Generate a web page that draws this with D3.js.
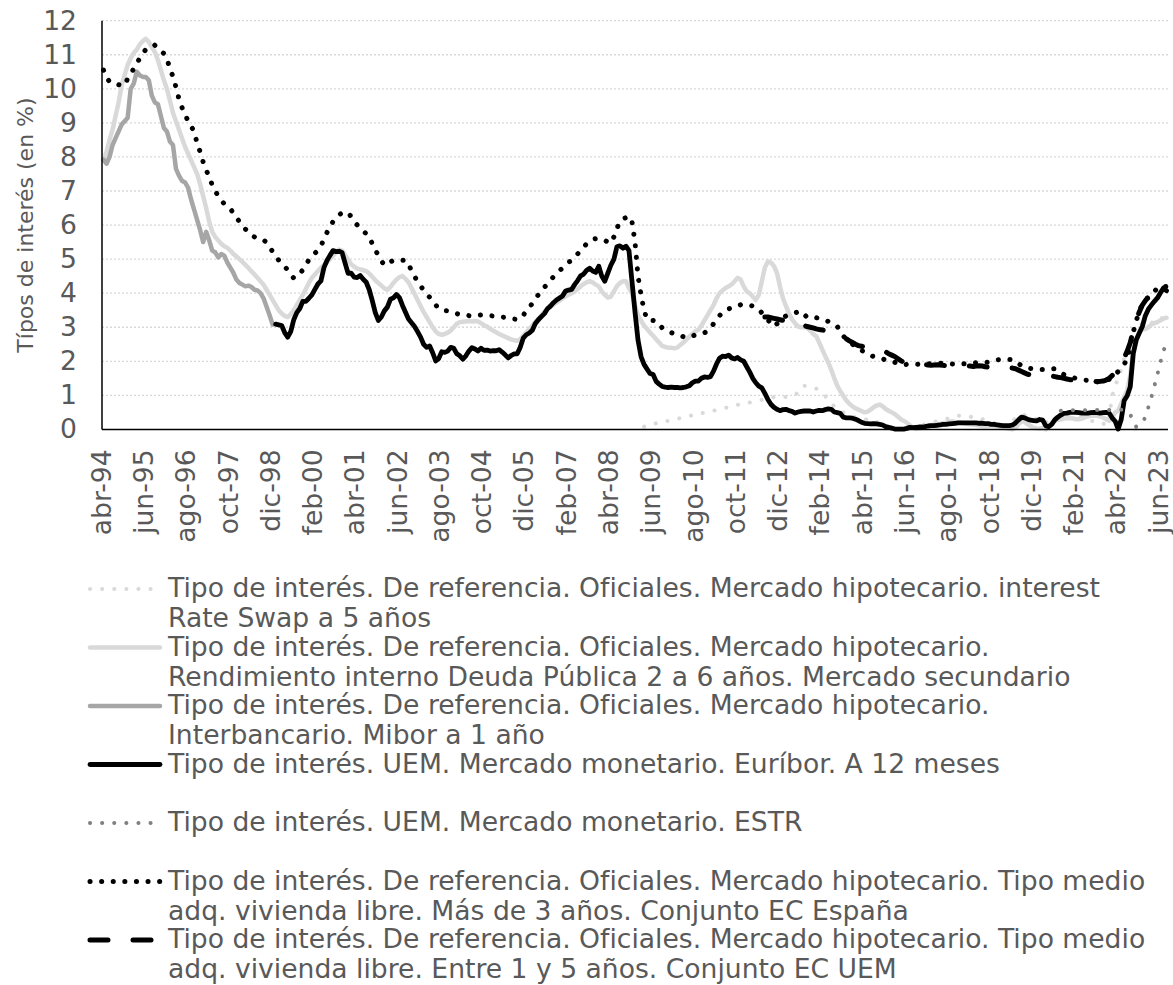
<!DOCTYPE html>
<html lang="es">
<head>
<meta charset="UTF-8">
<title>Tipos de interés</title>
<script src="https://cdn.jsdelivr.net/npm/d3@7"></script>
<style>
  body { margin: 0; background: #fff; }
  svg { display: block; font-family: Verdana, "DejaVu Sans", sans-serif; }
</style>
</head>
<body>
<svg id="chart" width="1173" height="985"></svg>
<script>
// etiquetas del eje X (una cada 14 meses)
const tickLabels = ["abr-94","jun-95","ago-96","oct-97","dic-98","feb-00","abr-01","jun-02","ago-03",
  "oct-04","dic-05","feb-07","abr-08","jun-09","ago-10","oct-11","dic-12","feb-14","abr-15","jun-16",
  "ago-17","oct-18","dic-19","feb-21","abr-22","jun-23"];

// meses abr-94 .. ago-23
const mesAbr = ["ene","feb","mar","abr","may","jun","jul","ago","sep","oct","nov","dic"];
const months = d3.range(353).map(k => {
  const t = 3 + k;
  return mesAbr[t % 12] + "-" + String((94 + Math.floor(t / 12)) % 100).padStart(2, "0");
});

// IRS a 5 años (desde mar-09)
const irsStart = 179;
const irs = [
  0.08,0.11,0.12,0.15,0.18,0.19,0.21,0.24,0.25,0.27,0.30,0.31,
  0.33,0.36,0.37,0.39,0.42,0.43,0.45,0.48,0.49,0.51,0.54,0.55,
  0.57,0.60,0.61,0.63,0.66,0.67,0.69,0.72,0.73,0.75,0.78,0.79,
  0.81,0.84,0.85,0.87,0.90,0.91,0.93,0.95,0.96,0.97,0.95,0.95,
  0.97,0.98,1.00,1.10,1.25,1.28,1.27,1.26,1.24,1.20,1.12,1.05,
  0.98,0.85,0.75,0.68,0.60,0.55,0.50,0.46,0.42,0.38,0.35,0.33,
  0.30,0.28,0.30,0.32,0.28,0.22,0.18,0.14,0.10,0.08,0.05,0.04,
  0.03,0.02,0.01,0.02,0.04,0.06,0.08,0.10,0.12,0.15,0.18,0.20,
  0.22,0.24,0.25,0.28,0.30,0.33,0.35,0.38,0.40,0.41,0.41,0.40,
  0.38,0.34,0.32,0.30,0.30,0.28,0.25,0.22,0.18,0.12,0.08,0.05,
  0.12,0.18,0.25,0.32,0.40,0.45,0.42,0.38,0.35,0.32,0.30,0.32,
  0.28,0.20,0.25,0.30,0.32,0.35,0.38,0.40,0.42,0.45,0.42,0.40,
  0.38,0.35,0.30,0.28,0.25,0.25,0.25,0.22,0.18,0.10,0.35,0.97,
  1.32,1.45,1.75,2.10,2.05,2.40,2.95,3.10,3.05,3.10,3.15,3.20,
  3.15,3.10,3.15,3.25,3.28,3.25
];

// Deuda Pública 2 a 6 años (desde abr-94)
const deudaStart = 0;
const deuda = [
  7.90,8.15,8.50,8.80,9.20,9.60,10.10,10.40,10.70,10.90,11.05,11.15,
  11.30,11.40,11.47,11.38,11.22,11.08,10.85,10.55,10.25,10.00,9.65,9.30,
  9.05,8.80,8.55,8.30,8.10,7.90,7.70,7.50,7.20,6.85,6.50,6.10,
  5.80,5.65,5.55,5.45,5.38,5.33,5.25,5.15,5.08,5.00,4.92,4.83,
  4.74,4.64,4.55,4.45,4.35,4.25,4.10,3.95,3.80,3.65,3.50,3.40,
  3.33,3.30,3.38,3.50,3.65,3.80,3.95,4.12,4.30,4.45,4.55,4.65,
  4.75,4.83,4.90,5.00,5.10,5.20,5.28,5.25,5.12,4.98,4.85,4.78,
  4.72,4.70,4.68,4.65,4.58,4.48,4.38,4.30,4.22,4.14,4.10,4.18,
  4.30,4.40,4.47,4.50,4.42,4.32,4.15,3.98,3.80,3.62,3.45,3.30,
  3.15,3.00,2.88,2.80,2.78,2.80,2.84,2.90,3.00,3.10,3.15,3.16,
  3.17,3.18,3.17,3.18,3.17,3.12,3.06,3.02,2.96,2.90,2.85,2.80,
  2.76,2.72,2.68,2.64,2.62,2.60,2.65,2.75,2.85,2.95,3.05,3.15,
  3.25,3.35,3.45,3.53,3.60,3.66,3.72,3.78,3.85,3.90,3.95,4.00,
  4.05,4.12,4.20,4.27,4.32,4.35,4.32,4.25,4.20,4.05,3.95,3.87,
  3.90,4.05,4.20,4.30,4.35,4.35,4.15,4.00,3.65,3.35,3.20,3.05,
  2.95,2.84,2.75,2.65,2.55,2.45,2.42,2.40,2.40,2.38,2.40,2.48,
  2.55,2.64,2.72,2.80,2.88,2.93,3.05,3.20,3.35,3.50,3.65,3.85,
  4.00,4.08,4.15,4.20,4.26,4.35,4.45,4.40,4.20,4.05,4.00,3.90,
  3.80,3.95,4.35,4.75,4.93,4.90,4.80,4.60,4.20,3.85,3.62,3.40,
  3.23,3.12,3.02,3.00,3.00,2.98,2.90,2.80,2.74,2.55,2.35,2.15,
  1.96,1.75,1.50,1.28,1.12,0.98,0.85,0.75,0.68,0.62,0.58,0.54,
  0.50,0.52,0.58,0.65,0.70,0.73,0.68,0.60,0.55,0.50,0.45,0.38,
  0.30,0.25,0.20,0.12,0.05,0.02,0.03,0.05,0.08,0.10,0.12,0.14,
  0.15,0.16,0.18,0.20,0.22,0.24,0.22,0.20,0.20,0.18,0.16,0.15,
  0.14,0.13,0.12,0.10,0.10,0.10,0.12,0.10,0.10,0.08,0.05,0.03,
  0.02,0.00,0.05,0.15,0.25,0.22,0.15,0.10,0.05,0.03,0.02,0.05,
  0.00,0.10,0.18,0.25,0.28,0.30,0.32,0.33,0.33,0.32,0.30,0.30,
  0.32,0.35,0.38,0.40,0.40,0.40,0.38,0.35,0.30,0.25,0.35,0.50,
  0.55,0.75,0.95,1.15,1.60,2.30,2.60,2.85,2.95,2.95,3.00,3.08,
  3.12,3.15,3.20,3.25,3.28
];

// Mibor a 1 año (abr-94 .. dic-98)
const miborStart = 0;
const mibor = [
  7.92,7.80,8.00,8.35,8.55,8.75,8.95,9.05,9.15,10.00,10.15,10.50,
  10.40,10.35,10.35,10.25,9.80,9.60,9.55,9.20,8.85,8.75,8.45,8.35,
  7.65,7.45,7.30,7.25,7.10,6.75,6.45,6.15,5.85,5.50,5.80,5.55,
  5.25,5.20,5.05,5.15,5.10,4.90,4.75,4.60,4.40,4.30,4.25,4.20,
  4.22,4.18,4.10,4.08,4.00,3.85,3.60,3.35,3.08
];

// Euríbor a 12 meses (ene-99 .. ago-23)
const euriborStart = 57;
const euribor = [
  3.09,3.07,3.05,2.84,2.71,2.87,3.22,3.43,3.55,3.76,3.76,3.85,
  3.95,4.11,4.27,4.36,4.75,4.96,5.11,5.25,5.22,5.23,5.19,4.88,
  4.58,4.59,4.47,4.46,4.52,4.41,4.32,4.10,3.78,3.43,3.20,3.30,
  3.48,3.59,3.82,3.86,3.96,3.87,3.64,3.44,3.24,3.13,3.02,2.87,
  2.71,2.50,2.41,2.45,2.25,2.01,2.08,2.28,2.26,2.30,2.41,2.38,
  2.22,2.16,2.06,2.16,2.30,2.40,2.36,2.30,2.38,2.32,2.33,2.30,
  2.31,2.31,2.34,2.27,2.19,2.10,2.17,2.22,2.22,2.41,2.68,2.78,
  2.83,2.91,3.11,3.22,3.31,3.40,3.54,3.62,3.72,3.80,3.86,3.92,
  4.06,4.09,4.11,4.25,4.37,4.51,4.56,4.67,4.73,4.65,4.61,4.79,
  4.50,4.35,4.59,4.82,4.99,5.36,5.39,5.32,5.38,5.25,4.35,3.45,
  2.62,2.14,1.91,1.77,1.64,1.61,1.41,1.33,1.26,1.24,1.23,1.24,
  1.23,1.23,1.22,1.23,1.25,1.28,1.37,1.42,1.42,1.50,1.54,1.53,
  1.55,1.71,1.92,2.09,2.15,2.14,2.18,2.10,2.07,2.11,2.04,2.00,
  1.84,1.68,1.50,1.37,1.27,1.22,1.06,0.88,0.74,0.65,0.59,0.55,
  0.58,0.59,0.55,0.53,0.48,0.51,0.53,0.54,0.54,0.54,0.51,0.54,
  0.56,0.55,0.58,0.60,0.59,0.51,0.49,0.47,0.36,0.34,0.34,0.33,
  0.30,0.26,0.21,0.18,0.17,0.16,0.17,0.16,0.15,0.13,0.08,0.06,
  0.04,0.01,0.01,0.01,0.01,0.03,0.06,0.05,0.06,0.07,0.07,0.08,
  0.10,0.11,0.11,0.12,0.13,0.15,0.15,0.16,0.17,0.18,0.19,0.19,
  0.19,0.19,0.19,0.19,0.19,0.18,0.18,0.17,0.17,0.15,0.15,0.13,
  0.12,0.11,0.11,0.11,0.13,0.19,0.28,0.36,0.34,0.30,0.27,0.26,
  0.25,0.29,0.27,0.11,0.08,0.15,0.28,0.36,0.42,0.47,0.48,0.50,
  0.51,0.50,0.49,0.48,0.48,0.48,0.49,0.50,0.49,0.48,0.49,0.50,
  0.48,0.34,0.24,0.01,0.29,0.85,0.99,1.25,2.23,2.63,2.83,3.02,
  3.34,3.53,3.65,3.76,3.86,4.01,4.15,4.07
];

// ESTR (desde sep-20)
const estrStart = 317;
const estr = [
  0.55,0.55,0.56,0.56,0.56,0.56,0.56,0.56,0.56,0.56,0.57,0.57,
  0.57,0.57,0.57,0.57,0.57,0.58,0.58,0.58,0.58,0.58,0.51,0.44,
  0.25,0.07,0.12,0.22,0.35,0.65,0.95,1.28,1.62,1.98,2.32,2.50
];

// Tipo medio vivienda libre, más de 3 años, EC España (desde abr-94)
const espanaStart = 0;
const espana = [
  10.55,10.35,10.20,10.15,10.13,10.12,10.10,10.10,10.30,10.42,10.60,10.74,
  10.90,11.05,11.15,11.23,11.26,11.28,11.20,11.10,11.04,10.85,10.62,10.35,
  10.05,9.70,9.45,9.25,9.05,8.90,8.75,8.40,8.15,7.85,7.62,7.40,
  7.18,7.00,6.85,6.72,6.62,6.55,6.48,6.35,6.22,6.10,5.98,5.88,
  5.80,5.70,5.65,5.62,5.60,5.57,5.48,5.35,5.22,5.08,4.97,4.87,
  4.78,4.68,4.55,4.44,4.50,4.58,4.68,4.82,4.98,5.08,5.17,5.26,
  5.40,5.57,5.78,5.95,6.10,6.22,6.30,6.36,6.39,6.35,6.25,6.12,
  6.00,5.90,5.82,5.75,5.66,5.45,5.28,5.10,4.95,4.82,4.85,4.92,
  4.96,4.98,4.98,4.97,4.97,4.85,4.66,4.50,4.33,4.22,4.08,3.98,
  3.88,3.78,3.65,3.55,3.50,3.49,3.48,3.47,3.44,3.40,3.37,3.36,
  3.35,3.34,3.33,3.34,3.35,3.36,3.36,3.35,3.34,3.33,3.33,3.31,
  3.30,3.29,3.28,3.26,3.24,3.23,3.25,3.35,3.48,3.58,3.70,3.85,
  3.95,4.07,4.17,4.28,4.38,4.48,4.58,4.66,4.74,4.82,4.90,4.98,
  5.06,5.15,5.25,5.36,5.45,5.52,5.58,5.60,5.60,5.59,5.55,5.50,
  5.47,5.65,5.90,6.10,6.18,6.22,6.26,6.10,5.50,4.50,3.95,3.50,
  3.22,3.20,3.20,3.18,3.08,2.98,2.92,2.88,2.84,2.81,2.79,2.76,
  2.72,2.69,2.71,2.74,2.78,2.80,2.82,2.84,2.88,2.98,3.10,3.22,
  3.34,3.44,3.50,3.54,3.57,3.60,3.63,3.66,3.67,3.67,3.65,3.62,
  3.58,3.52,3.42,3.32,3.22,3.10,3.02,3.10,3.20,3.28,3.33,3.36,
  3.38,3.42,3.45,3.47,3.38,3.29,3.27,3.28,3.28,3.26,3.23,3.20,
  3.17,3.12,3.07,3.02,2.88,2.74,2.64,2.56,2.50,2.44,2.38,2.32,
  2.27,2.22,2.17,2.14,2.12,2.10,2.07,2.04,2.01,1.99,1.97,1.94,
  1.91,1.90,1.91,1.92,1.93,1.92,1.91,1.90,1.91,1.92,1.93,1.93,
  1.94,1.94,1.94,1.93,1.92,1.92,1.91,1.92,1.93,1.93,1.94,1.95,
  1.95,1.96,1.96,1.96,1.97,1.97,1.99,2.02,2.04,2.05,2.05,2.05,
  2.05,2.05,2.00,1.93,1.87,1.82,1.80,1.79,1.78,1.77,1.76,1.76,
  1.77,1.77,1.78,1.78,1.72,1.66,1.61,1.58,1.55,1.52,1.50,1.48,
  1.46,1.45,1.44,1.42,1.41,1.40,1.41,1.42,1.44,1.47,1.52,1.60,
  1.70,1.80,1.92,2.05,2.45,2.85,3.20,3.45,3.70,3.80,3.88,3.95,
  4.05,4.15,4.20,4.18,4.20
];

// Tipo medio vivienda libre, entre 1 y 5 años, EC UEM (desde jul-12)
const uemStart = 219;
const uem = [
  3.30,3.30,3.28,3.26,3.24,3.22,3.20,3.22,3.24,3.23,3.20,3.15,
  3.10,3.05,3.02,3.00,2.98,2.95,2.93,2.92,2.90,2.88,2.86,2.84,
  2.80,2.76,2.72,2.66,2.60,2.55,2.50,2.46,2.44,2.42,2.40,2.38,
  2.36,2.34,2.33,2.32,2.28,2.22,2.18,2.14,2.08,2.02,1.97,1.94,
  1.92,1.90,1.89,1.89,1.90,1.90,1.89,1.88,1.89,1.90,1.89,1.88,
  1.87,1.86,1.87,1.87,1.86,1.86,1.87,1.87,1.86,1.85,1.86,1.87,
  1.86,1.84,1.83,1.82,1.82,1.81,1.81,1.80,1.80,1.81,1.80,1.78,
  1.74,1.70,1.66,1.62,1.60,1.58,1.57,1.57,1.56,1.57,1.58,1.57,
  1.55,1.53,1.52,1.50,1.48,1.46,1.45,1.45,1.44,1.43,1.42,1.42,
  1.41,1.41,1.40,1.41,1.42,1.45,1.50,1.58,1.66,1.78,1.96,2.10,
  2.30,2.55,2.90,3.20,3.45,3.65,3.78,3.88,3.95,4.02,4.10,4.15,
  4.18,4.15
];

const series = [
  { values: irs, start: irsStart, color: "#d9d9d9", width: 4, dash: "0.1 12",
    label: ["Tipo de interés. De referencia. Oficiales. Mercado hipotecario. interest", "Rate Swap a 5 años"] },
  { values: deuda, start: deudaStart, color: "#d9d9d9", width: 4.5, dash: null,
    label: ["Tipo de interés. De referencia. Oficiales. Mercado hipotecario.", "Rendimiento interno Deuda Pública 2 a 6 años. Mercado secundario"] },
  { values: mibor, start: miborStart, color: "#a6a6a6", width: 4.5, dash: null,
    label: ["Tipo de interés. De referencia. Oficiales. Mercado hipotecario.", "Interbancario. Mibor a 1 año"] },
  { values: euribor, start: euriborStart, color: "#000000", width: 4.8, dash: null,
    label: ["Tipo de interés. UEM. Mercado monetario. Euríbor. A 12 meses"] },
  { values: estr, start: estrStart, color: "#808080", width: 4, dash: "0.1 12",
    label: ["Tipo de interés. UEM. Mercado monetario. ESTR"] },
  { values: espana, start: espanaStart, color: "#000000", width: 5, dash: "0.1 11.5",
    label: ["Tipo de interés. De referencia. Oficiales. Mercado hipotecario. Tipo medio", "adq. vivienda libre. Más de 3 años. Conjunto EC España"] },
  { values: uem, start: uemStart, color: "#000000", width: 5, dash: "18 25",
    label: ["Tipo de interés. De referencia. Oficiales. Mercado hipotecario. Tipo medio", "adq. vivienda libre. Entre 1 y 5 años. Conjunto EC UEM"] }
];

const svg = d3.select("#chart");
const plotLeft = 102, plotRight = 1168, plotTop = 20.7, plotBottom = 429.4;
const fontMain = "26.6px";

const x = d3.scaleBand().domain(months).range([plotLeft, plotRight]);
const y = d3.scaleLinear().domain([0, 12]).range([plotBottom, plotTop]);
const textColor = "#595959";

// grid
svg.append("g")
  .selectAll("line")
  .data(d3.range(1, 13))
  .enter().append("line")
  .attr("x1", plotLeft).attr("x2", plotRight)
  .attr("y1", d => y(d)).attr("y2", d => y(d))
  .attr("stroke", "#d9d9d9")
  .attr("stroke-width", 1.3)
  .attr("stroke-dasharray", "2 2");

// y axis
const yAxis = svg.append("g")
  .attr("transform", `translate(${plotLeft},0)`)
  .call(d3.axisLeft(y).tickValues(d3.range(0, 13)).tickSize(0).tickPadding(25));
yAxis.select(".domain").remove();
yAxis.selectAll("text").attr("fill", textColor).style("font-size", fontMain)
  .style("font-family", "Verdana, 'DejaVu Sans', sans-serif");

// x axis
const xAxis = svg.append("g")
  .attr("transform", `translate(0,${plotBottom})`)
  .call(d3.axisBottom(x).tickValues(tickLabels).tickSize(0));
xAxis.select(".domain").remove();
xAxis.selectAll("text")
  .attr("fill", textColor)
  .style("font-size", fontMain)
  .style("font-family", "Verdana, 'DejaVu Sans', sans-serif")
  .attr("transform", "rotate(-90)")
  .attr("x", -20)
  .attr("y", 0)
  .attr("dy", "0.27em")
  .attr("text-anchor", "end");

// y title
svg.append("text")
  .attr("transform", `translate(33,${(plotTop + plotBottom) / 2}) rotate(-90)`)
  .attr("text-anchor", "middle")
  .attr("fill", textColor)
  .style("font-size", "22px")
  .text("Típos de interés (en %)");

// series
const line = d3.line()
  .x(d => x(months[d.i]) + x.bandwidth() / 2)
  .y(d => y(d.v));

series.forEach(s => {
  const pts = s.values.map((v, k) => ({ i: s.start + k, v: v }));
  svg.append("path")
    .datum(pts)
    .attr("d", line)
    .attr("fill", "none")
    .attr("stroke", s.color)
    .attr("stroke-width", s.width)
    .attr("stroke-linecap", "round")
    .attr("stroke-linejoin", "round")
    .attr("stroke-dasharray", s.dash);
});

// axis lines
svg.append("line").attr("x1", plotLeft).attr("x2", plotLeft).attr("y1", plotTop).attr("y2", plotBottom)
  .attr("stroke", "#000").attr("stroke-width", 1.5);
svg.append("line").attr("x1", plotLeft).attr("x2", plotRight).attr("y1", plotBottom).attr("y2", plotBottom)
  .attr("stroke", "#000").attr("stroke-width", 1.5);

// legend
const legend = svg.append("g");
series.forEach((s, i) => {
  const ly = 589 + i * 58.5;
  legend.append("line")
    .attr("x1", 90).attr("x2", 160).attr("y1", ly).attr("y2", ly)
    .attr("stroke", s.color)
    .attr("stroke-width", s.width)
    .attr("stroke-linecap", "round")
    .attr("stroke-dasharray", s.dash);
  const t = legend.append("text")
    .attr("x", 168).attr("y", ly + 8)
    .attr("fill", textColor)
    .style("font-size", fontMain);
  s.label.forEach((l, j) => {
    t.append("tspan").attr("x", 168).attr("dy", j === 0 ? 0 : 30).text(l);
  });
});
</script>
</body>
</html>
